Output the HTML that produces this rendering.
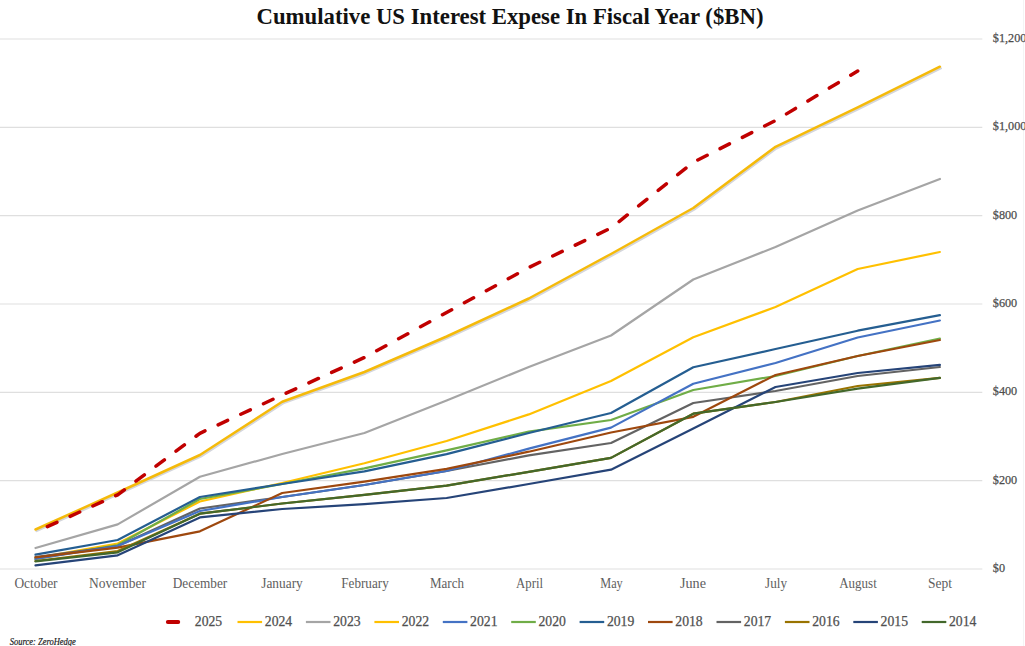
<!DOCTYPE html>
<html><head><meta charset="utf-8"><style>
html,body{margin:0;padding:0;background:#fff;width:1025px;height:646px;overflow:hidden}
svg{display:block}
text{font-family:"Liberation Serif",serif}
.title{font-size:22.5px;font-weight:bold;fill:#111}
.yl{font-size:13px;fill:#4d4d4d;stroke:#4d4d4d;stroke-width:0.25px}
.xl{font-size:14px;fill:#606060}
.lg{font-size:13.7px;fill:#505050;stroke:#505050;stroke-width:0.25px}
.src{font-size:9.8px;font-style:italic;fill:#1a1a1a;stroke:#1a1a1a;stroke-width:0.2px}
</style></head><body>
<svg width="1025" height="646" viewBox="0 0 1025 646">
<line x1="0" y1="39.00" x2="982.3" y2="39.00" stroke="#dfdfdf" stroke-width="1.2"/>
<line x1="0" y1="127.33" x2="982.3" y2="127.33" stroke="#dfdfdf" stroke-width="1.2"/>
<line x1="0" y1="215.67" x2="982.3" y2="215.67" stroke="#dfdfdf" stroke-width="1.2"/>
<line x1="0" y1="304.00" x2="982.3" y2="304.00" stroke="#dfdfdf" stroke-width="1.2"/>
<line x1="0" y1="392.33" x2="982.3" y2="392.33" stroke="#dfdfdf" stroke-width="1.2"/>
<line x1="0" y1="480.67" x2="982.3" y2="480.67" stroke="#dfdfdf" stroke-width="1.2"/>
<line x1="0" y1="569.00" x2="982.3" y2="569.00" stroke="#dfdfdf" stroke-width="1.2"/>
<line x1="1023.5" y1="0" x2="1023.5" y2="646" stroke="#f4f4f4" stroke-width="1"/>
<polyline points="35.5,548.0 117.7,524.4 199.9,476.7 282.2,454.0 364.4,433.0 446.6,400.5 528.8,367.0 611.0,335.5 693.3,279.5 775.5,247.0 857.7,210.5 939.9,179.0" fill="none" stroke="#A5A5A5" stroke-width="2.2" stroke-linejoin="round" stroke-linecap="round"/>
<polyline points="35.5,558.0 117.7,543.5 199.9,501.5 282.2,483.0 364.4,463.3 446.6,441.0 528.8,414.4 611.0,381.0 693.3,337.3 775.5,307.0 857.7,269.0 939.9,252.0" fill="none" stroke="#FFC000" stroke-width="2.2" stroke-linejoin="round" stroke-linecap="round"/>
<polyline points="35.5,559.0 117.7,545.0 199.9,499.0 282.2,484.0 364.4,468.4 446.6,450.4 528.8,431.6 611.0,420.0 693.3,390.0 775.5,376.0 857.7,356.0 939.9,338.5" fill="none" stroke="#70AD47" stroke-width="2.2" stroke-linejoin="round" stroke-linecap="round"/>
<polyline points="35.5,554.7 117.7,540.0 199.9,497.0 282.2,484.0 364.4,471.4 446.6,454.1 528.8,433.0 611.0,413.0 693.3,367.3 775.5,349.0 857.7,330.7 939.9,315.2" fill="none" stroke="#255E91" stroke-width="2.2" stroke-linejoin="round" stroke-linecap="round"/>
<polyline points="35.5,557.0 117.7,546.0 199.9,508.5 282.2,497.0 364.4,485.0 446.6,471.0 528.8,455.4 611.0,443.0 693.3,403.0 775.5,391.0 857.7,376.0 939.9,367.0" fill="none" stroke="#636363" stroke-width="2.2" stroke-linejoin="round" stroke-linecap="round"/>
<polyline points="35.5,559.0 117.7,546.0 199.9,511.0 282.2,497.0 364.4,485.0 446.6,471.0 528.8,448.6 611.0,427.6 693.3,383.7 775.5,363.0 857.7,337.5 939.9,320.5" fill="none" stroke="#4472C4" stroke-width="2.2" stroke-linejoin="round" stroke-linecap="round"/>
<polyline points="35.5,557.4 117.7,547.7 199.9,531.3 282.2,493.0 364.4,481.6 446.6,468.8 528.8,451.7 611.0,432.5 693.3,416.8 775.5,375.0 857.7,356.0 939.9,340.0" fill="none" stroke="#9E480E" stroke-width="2.2" stroke-linejoin="round" stroke-linecap="round"/>
<polyline points="35.5,561.0 117.7,551.0 199.9,513.7 282.2,503.5 364.4,494.8 446.6,485.7 528.8,471.8 611.0,457.9 693.3,413.7 775.5,402.0 857.7,386.0 939.9,377.8" fill="none" stroke="#997300" stroke-width="2.2" stroke-linejoin="round" stroke-linecap="round"/>
<polyline points="35.5,565.3 117.7,555.3 199.9,517.4 282.2,509.0 364.4,504.2 446.6,498.0 528.8,484.0 611.0,469.7 693.3,428.6 775.5,387.0 857.7,373.0 939.9,364.8" fill="none" stroke="#264478" stroke-width="2.2" stroke-linejoin="round" stroke-linecap="round"/>
<polyline points="35.5,561.3 117.7,552.3 199.9,513.7 282.2,503.5 364.4,494.8 446.6,485.7 528.8,471.8 611.0,457.9 693.3,413.7 775.5,402.0 857.7,388.6 939.9,377.8" fill="none" stroke="#43682B" stroke-width="2.2" stroke-linejoin="round" stroke-linecap="round"/>
<polyline points="35.5,531.1 117.7,494.1 199.9,456.6 282.2,403.3 364.4,373.6 446.6,338.1 528.8,300.1 611.0,255.6 693.3,209.6 775.5,148.4 857.7,108.9 939.9,68.3" transform="translate(1,0)" fill="none" stroke="#d4d6dc" stroke-width="2.2" stroke-linejoin="round" stroke-linecap="round"/>
<polyline points="35.5,529.5 117.7,492.5 199.9,455.0 282.2,401.7 364.4,372.0 446.6,336.5 528.8,298.5 611.0,254.0 693.3,208.0 775.5,146.8 857.7,107.3 939.9,66.7" fill="none" stroke="#F5BA0A" stroke-width="2.5" stroke-linejoin="round" stroke-linecap="round"/>
<polyline points="35.5,532.0 117.7,494.8 199.9,433.3 282.2,395.0 364.4,357.5 446.6,312.5 528.8,267.5 611.0,228.0 693.3,162.3 775.5,120.5 857.7,71.0" fill="none" stroke="#C00000" stroke-width="3.5" stroke-dasharray="10.5 14.5" stroke-dashoffset="-13" stroke-linejoin="round" stroke-linecap="round"/>
<text x="992.8" y="42.0" class="yl" textLength="33.6" lengthAdjust="spacingAndGlyphs">$1,200</text>
<text x="992.8" y="130.3" class="yl" textLength="33.6" lengthAdjust="spacingAndGlyphs">$1,000</text>
<text x="992.8" y="218.7" class="yl" textLength="24.4" lengthAdjust="spacingAndGlyphs">$800</text>
<text x="992.8" y="307.0" class="yl" textLength="24.4" lengthAdjust="spacingAndGlyphs">$600</text>
<text x="992.8" y="395.3" class="yl" textLength="24.4" lengthAdjust="spacingAndGlyphs">$400</text>
<text x="992.8" y="483.7" class="yl" textLength="24.4" lengthAdjust="spacingAndGlyphs">$200</text>
<text x="992.8" y="572.0" class="yl" textLength="12.2" lengthAdjust="spacingAndGlyphs">$0</text>
<text x="36.0" y="588" class="xl" text-anchor="middle" textLength="43.2" lengthAdjust="spacingAndGlyphs">October</text>
<text x="117.5" y="588" class="xl" text-anchor="middle" textLength="57" lengthAdjust="spacingAndGlyphs">November</text>
<text x="200.0" y="588" class="xl" text-anchor="middle" textLength="54.5" lengthAdjust="spacingAndGlyphs">December</text>
<text x="282.0" y="588" class="xl" text-anchor="middle" textLength="41.5" lengthAdjust="spacingAndGlyphs">January</text>
<text x="365.0" y="588" class="xl" text-anchor="middle" textLength="47.5" lengthAdjust="spacingAndGlyphs">February</text>
<text x="447.0" y="588" class="xl" text-anchor="middle" textLength="34" lengthAdjust="spacingAndGlyphs">March</text>
<text x="529.5" y="588" class="xl" text-anchor="middle" textLength="27" lengthAdjust="spacingAndGlyphs">April</text>
<text x="611.5" y="588" class="xl" text-anchor="middle" textLength="22.5" lengthAdjust="spacingAndGlyphs">May</text>
<text x="693.0" y="588" class="xl" text-anchor="middle" textLength="26" lengthAdjust="spacingAndGlyphs">June</text>
<text x="776.0" y="588" class="xl" text-anchor="middle" textLength="22" lengthAdjust="spacingAndGlyphs">July</text>
<text x="858.0" y="588" class="xl" text-anchor="middle" textLength="37.5" lengthAdjust="spacingAndGlyphs">August</text>
<text x="940.0" y="588" class="xl" text-anchor="middle" textLength="24" lengthAdjust="spacingAndGlyphs">Sept</text>
<text x="510" y="23.5" class="title" text-anchor="middle" textLength="507" lengthAdjust="spacingAndGlyphs">Cumulative US Interest Expese In Fiscal Year ($BN)</text>
<line x1="167.8" y1="622" x2="178.3" y2="622" stroke="#C00000" stroke-width="3.8" stroke-linecap="round"/>
<text x="194.8" y="625.6" class="lg" textLength="27.4" lengthAdjust="spacingAndGlyphs">2025</text>
<line x1="237.5" y1="622" x2="262.1" y2="622" stroke="#FFC000" stroke-width="2.2"/>
<text x="264.8" y="625.6" class="lg" textLength="27.4" lengthAdjust="spacingAndGlyphs">2024</text>
<line x1="305.9" y1="622" x2="330.5" y2="622" stroke="#A5A5A5" stroke-width="2.2"/>
<text x="333.2" y="625.6" class="lg" textLength="27.4" lengthAdjust="spacingAndGlyphs">2023</text>
<line x1="374.4" y1="622" x2="399.0" y2="622" stroke="#FFC000" stroke-width="2.2"/>
<text x="401.7" y="625.6" class="lg" textLength="27.4" lengthAdjust="spacingAndGlyphs">2022</text>
<line x1="442.8" y1="622" x2="467.4" y2="622" stroke="#4472C4" stroke-width="2.2"/>
<text x="470.1" y="625.6" class="lg" textLength="27.4" lengthAdjust="spacingAndGlyphs">2021</text>
<line x1="511.2" y1="622" x2="535.8" y2="622" stroke="#70AD47" stroke-width="2.2"/>
<text x="538.5" y="625.6" class="lg" textLength="27.4" lengthAdjust="spacingAndGlyphs">2020</text>
<line x1="579.6" y1="622" x2="604.2" y2="622" stroke="#255E91" stroke-width="2.2"/>
<text x="606.9" y="625.6" class="lg" textLength="27.4" lengthAdjust="spacingAndGlyphs">2019</text>
<line x1="648.0" y1="622" x2="672.6" y2="622" stroke="#9E480E" stroke-width="2.2"/>
<text x="675.3" y="625.6" class="lg" textLength="27.4" lengthAdjust="spacingAndGlyphs">2018</text>
<line x1="716.5" y1="622" x2="741.1" y2="622" stroke="#636363" stroke-width="2.2"/>
<text x="743.8" y="625.6" class="lg" textLength="27.4" lengthAdjust="spacingAndGlyphs">2017</text>
<line x1="784.9" y1="622" x2="809.5" y2="622" stroke="#997300" stroke-width="2.2"/>
<text x="812.2" y="625.6" class="lg" textLength="27.4" lengthAdjust="spacingAndGlyphs">2016</text>
<line x1="853.3" y1="622" x2="877.9" y2="622" stroke="#264478" stroke-width="2.2"/>
<text x="880.6" y="625.6" class="lg" textLength="27.4" lengthAdjust="spacingAndGlyphs">2015</text>
<line x1="921.7" y1="622" x2="946.3" y2="622" stroke="#43682B" stroke-width="2.2"/>
<text x="949.0" y="625.6" class="lg" textLength="27.4" lengthAdjust="spacingAndGlyphs">2014</text>
<text x="9.8" y="644.8" class="src" textLength="66" lengthAdjust="spacingAndGlyphs">Source: ZeroHedge</text>
</svg>
</body></html>
